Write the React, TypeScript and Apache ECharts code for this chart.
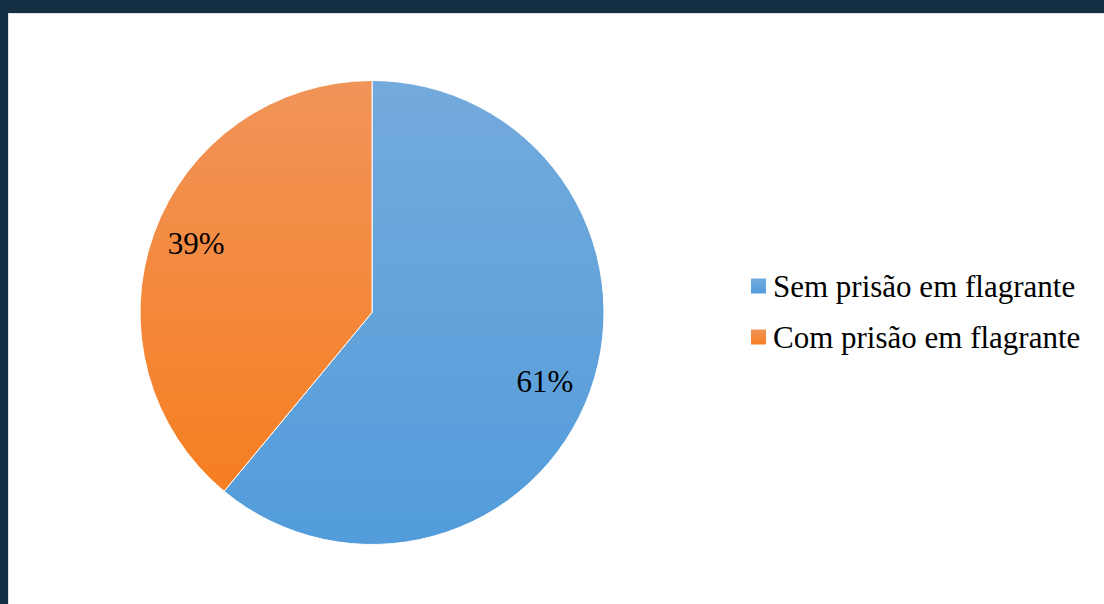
import React, { useEffect, useRef } from "react";
import * as echarts from "echarts";

const categories: string[] = ["Sem prisão em flagrante", "Com prisão em flagrante"];
const values: number[] = [61, 39];
const topColors: string[] = ["#74AADC", "#F19459"];
const bottomColors: string[] = ["#529CDB", "#F67E21"];

const SERIF = "'Liberation Serif', 'DejaVu Serif', 'Times New Roman', serif";
const LABEL_NUDGE: number[][] = [[-5, 5], [2, -5]];

export default function App() {
  const ref = useRef<HTMLDivElement>(null);
  useEffect(() => {
    document.body.style.margin = "0";
    if (!ref.current) return;
    const chart = echarts.init(ref.current, null, { renderer: "svg" });
    const mainData = categories.map((name, i) => ({
      name,
      value: values[i],
      itemStyle: {
        color: new echarts.graphic.LinearGradient(0, 0, 0, 1, [
          { offset: 0, color: topColors[i] },
          { offset: 1, color: bottomColors[i] },
        ]),
      },
    }));
    const labelData = categories.map((name, i) => ({
      name,
      value: values[i],
      label: { offset: LABEL_NUDGE[i] },
    }));
    chart.setOption({
      animation: false,
      backgroundColor: "#ffffff",
      legend: {
        orient: "vertical",
        left: 735,
        top: 250,
        padding: 5,
        icon: "rect",
        itemWidth: 17,
        itemHeight: 17,
        itemGap: 17,
        data: categories,
        textStyle: {
          fontFamily: SERIF,
          fontSize: 31,
          color: "#000000",
          lineHeight: 34,
          padding: [0, 0, 0, 1],
        },
      },
      series: [
        {
          type: "pie",
          center: [363, 298.5],
          radius: [0, 232],
          startAngle: 90,
          clockwise: true,
          label: { show: false },
          labelLine: { show: false },
          itemStyle: { borderColor: "#ffffff", borderWidth: 1 },
          emphasis: { disabled: true },
          data: mainData,
        },
        {
          type: "pie",
          center: [363, 298.5],
          radius: [140, 232],
          startAngle: 90,
          clockwise: true,
          silent: true,
          itemStyle: { color: "rgba(0,0,0,0)" },
          label: {
            show: true,
            position: "inside",
            formatter: "{c}%",
            fontFamily: SERIF,
            fontSize: 31,
            color: "#000000",
          },
          labelLine: { show: false },
          emphasis: { disabled: true },
          data: labelData,
        },
      ],
    });
    return () => chart.dispose();
  }, []);
  return (
    <div style={{ width: 1104, height: 604, background: "#142F43", position: "relative", overflow: "hidden" }}>
      <div
        style={{
          position: "absolute",
          left: 8,
          top: 13,
          width: 1096,
          height: 591,
          borderLeft: "1px solid #DCE1E8",
          borderTop: "1px solid #DCE1E8",
          boxSizing: "border-box",
          background: "#ffffff",
        }}
      >
        <div ref={ref} style={{ width: 1095, height: 590 }} />
      </div>
    </div>
  );
}
